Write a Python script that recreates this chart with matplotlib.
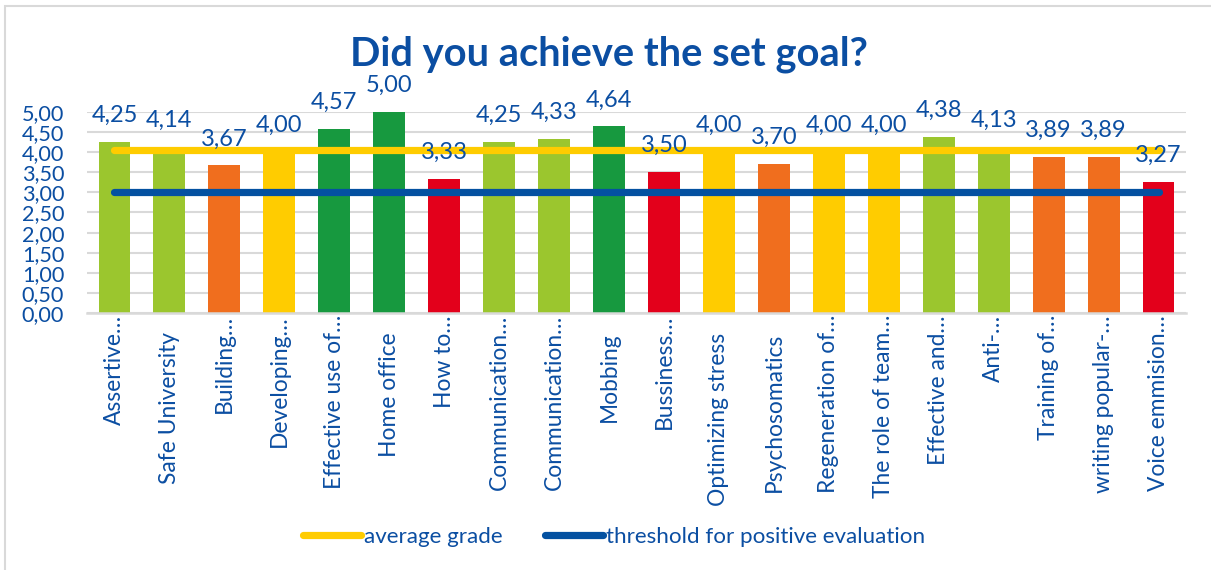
import matplotlib
matplotlib.use("Agg")
import matplotlib.pyplot as plt
from matplotlib.lines import Line2D
from matplotlib.patches import Rectangle
import numpy as np

categories = ["Assertive…", "Safe University", "Building…", "Developing…", "Effective use of…",
              "Home office", "How to…", "Communication…", "Communication…", "Mobbing",
              "Bussiness…", "Optimizing stress", "Psychosomatics", "Regeneration of…",
              "The role of team…", "Effective and…", "Anti-…", "Training of…",
              "writing popular-…", "Voice emmision…"]
values = [4.25, 4.14, 3.67, 4.00, 4.57, 5.00, 3.33, 4.25, 4.33, 4.64,
          3.50, 4.00, 3.70, 4.00, 4.00, 4.38, 4.13, 3.89, 3.89, 3.27]
grade_class = ["lg", "lg", "or", "ye", "dg", "dg", "rd", "lg", "lg", "dg",
               "rd", "ye", "or", "ye", "ye", "lg", "lg", "or", "or", "rd"]
average_grade = 4.05
threshold = 3.00
yticks = [0, 0.5, 1.0, 1.5, 2.0, 2.5, 3.0, 3.5, 4.0, 4.5, 5.0]

palette = {"lg": "#9BC62E", "or": "#F06E1E", "ye": "#FFCC00", "dg": "#17993F", "rd": "#E3001B"}
BLUE = "#0B4EA2"
LINEBLUE = "#0451A1"
YELLOW = "#FFCC00"
GRID = "#D9D9D9"

plt.rcParams["font.family"] = ["Lato", "DejaVu Sans"]

W, H = 1211, 570
fig = plt.figure(figsize=(W / 100, H / 100), dpi=100)
fig.patch.set_facecolor("white")

# outer chart frame
fig.add_artist(Rectangle((5 / W, -0.1), 1.2, (H - 6) / H + 0.1, transform=fig.transFigure,
                         fill=False, edgecolor="#D9D9D9", linewidth=1.5))

ax = fig.add_axes([87 / W, (H - 313) / H, (1186 - 87) / W, (313 - 112) / H])
n = len(values)
x = np.arange(n)
ax.bar(x, values, width=0.58, color=[palette[c] for c in grade_class], zorder=2)

ax.plot(x, [average_grade] * n, color=YELLOW, linewidth=5.2, solid_capstyle="round", zorder=3,
        label="average grade")
ax.plot(x, [threshold] * n, color=LINEBLUE, linewidth=5.2, solid_capstyle="round", zorder=3,
        label="threshold for positive evaluation")

for xi, v in zip(x, values):
    ax.annotate(f"{v:.2f}".replace(".", ","), (xi, v), xytext=(0, 14.4), textcoords="offset points",
                ha="center", va="baseline", fontsize=17, color=BLUE, zorder=5)

ax.set_xlim(-0.5, n - 0.5)
ax.set_ylim(0, 5)
ax.set_yticks(yticks)
ax.set_yticklabels([f"{t:.2f}".replace(".", ",") for t in yticks], fontsize=15.6, color=BLUE)
ax.set_xticks(x)
ax.set_xticklabels([])
ax.tick_params(axis="both", length=0)
ax.tick_params(axis="y", pad=16.5)

# category labels (Excel places the truncated ones right under the axis)
for xi, lab in zip(x, categories):
    off = 1.5 if lab.endswith("…") else 14.0
    ax.annotate(lab, (xi, 0), xycoords=("data", "axes fraction"), xytext=(0, -off),
                textcoords="offset points", rotation=90, ha="center", va="top",
                fontsize=16.4, color=BLUE, annotation_clip=False)

ax.grid(axis="y", color=GRID, linewidth=1.5, zorder=0)
ax.set_axisbelow(True)
for s in ["top", "right", "left"]:
    ax.spines[s].set_visible(False)
ax.spines["bottom"].set_color(GRID)
ax.spines["bottom"].set_linewidth(1.8)

fig.text(609 / W, (H - 54) / H, "Did you achieve the set goal?", ha="center", va="center",
         fontsize=28.7, fontweight="bold", color=BLUE)

handles = [Line2D([], [], color=YELLOW, linewidth=5.2, solid_capstyle="round"),
           Line2D([], [], color=LINEBLUE, linewidth=5.2, solid_capstyle="round")]
leg = fig.legend(handles, ["average grade", "threshold for positive evaluation"], loc="center",
                 bbox_to_anchor=(614 / W, (H - 537) / H), ncol=2, frameon=False, fontsize=16.1,
                 handlelength=2.6, handletextpad=0.13, columnspacing=1.9)
for t in leg.get_texts():
    t.set_color(BLUE)

fig.savefig("out.png", dpi=100, facecolor="white")
